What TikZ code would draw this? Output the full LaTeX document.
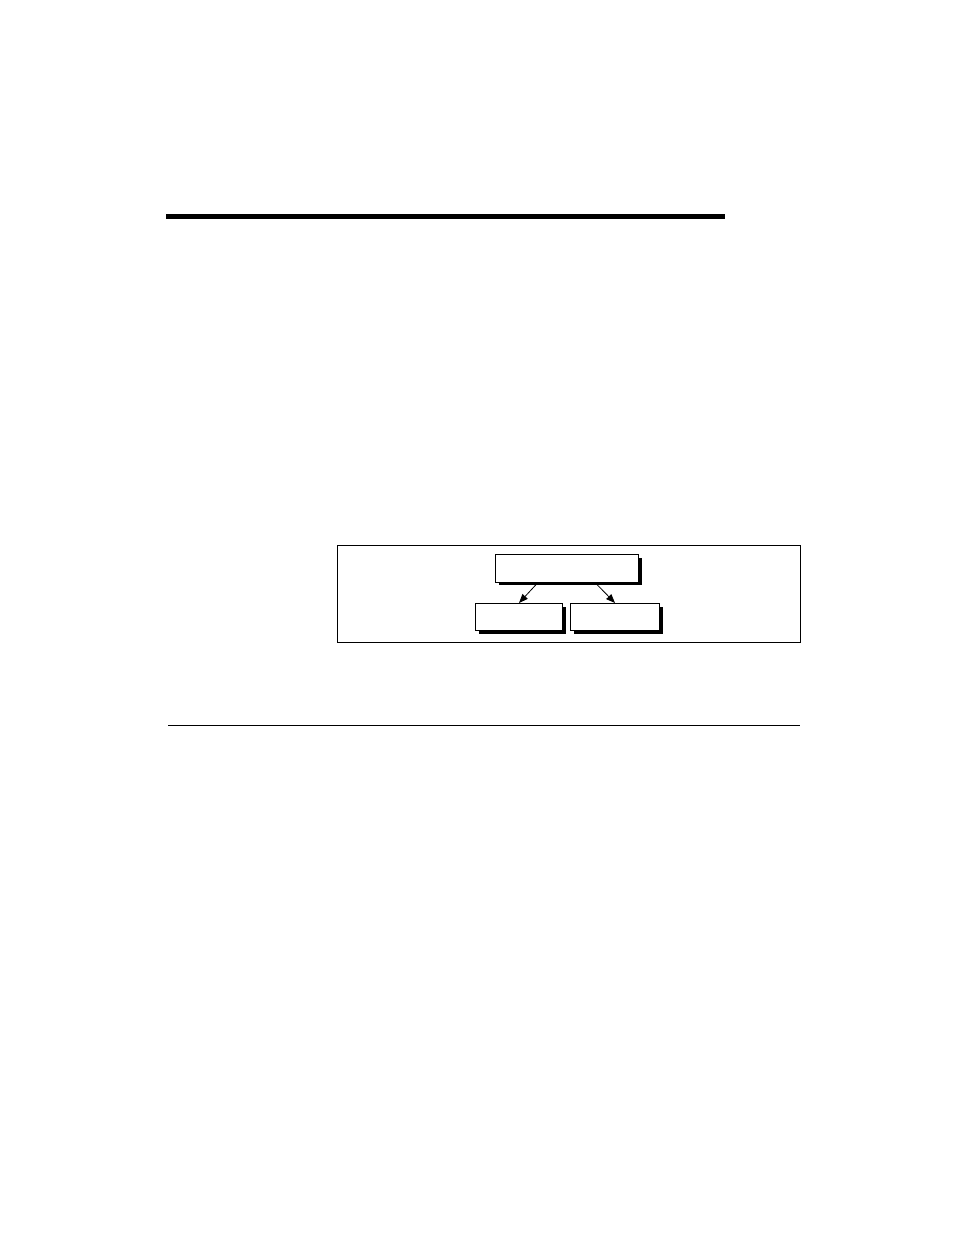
\documentclass[tikz,border=0pt]{standalone}
\usetikzlibrary{arrows.meta,shadows}
\begin{document}
\begin{tikzpicture}[x=1pt,y=-1pt,
  boxnode/.style={draw=black,fill=white,line width=1pt,inner sep=0pt,anchor=north west,
    drop shadow={shadow xshift=3pt,shadow yshift=-3pt,fill=black,opacity=1}},
  arr/.style={line width=0.8pt,-{Triangle[length=9pt,width=7pt]}}]
\useasboundingbox (0,0) rectangle (954,1235);
% rules
\coordinate (r1a) at (166,216.5);
\coordinate (r1b) at (725,216.5);
\draw[line width=5pt] (r1a) -- (r1b);
\coordinate (r2a) at (168,725.5);
\coordinate (r2b) at (800,725.5);
\draw[line width=1.2pt] (r2a) -- (r2b);
% frame
\node[draw=black,line width=1pt,minimum width=463pt,minimum height=97pt,inner sep=0pt,anchor=north west] (frame) at (337,545) {};
% boxes
\node[boxnode,minimum width=143pt,minimum height=27.5pt] (top) at (495,554) {};
\node[boxnode,minimum width=87pt,minimum height=27pt] (bl) at (475,603) {};
\node[boxnode,minimum width=89pt,minimum height=27pt] (br) at (570,603) {};
% arrows
\draw[arr] ([xshift=43pt]top.south west) -- ([xshift=44pt]bl.north west);
\draw[arr] ([xshift=100pt]top.south west) -- ([xshift=45pt]br.north west);
\end{tikzpicture}
\end{document}
